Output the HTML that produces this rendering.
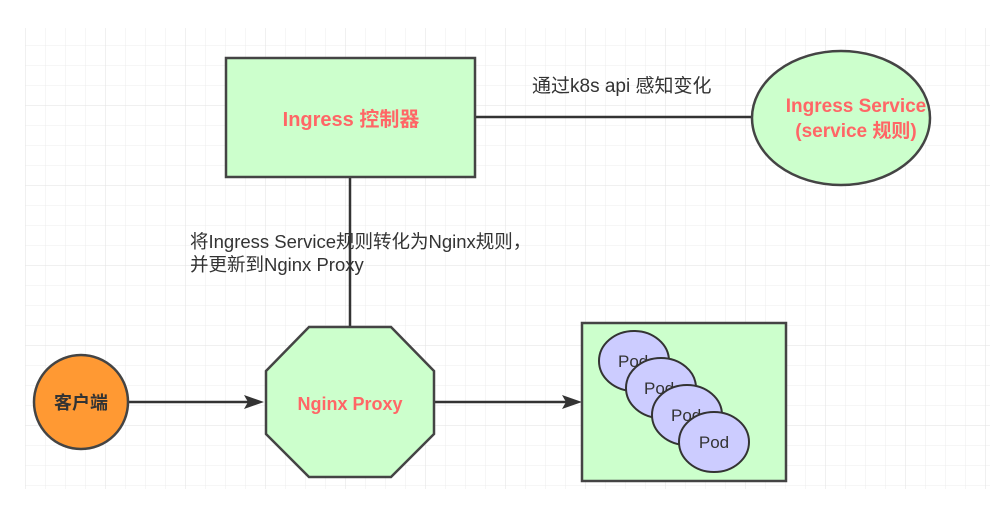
<!DOCTYPE html>
<html><head><meta charset="utf-8"><style>
body{margin:0;background:#fff;}
</style></head><body>
<svg width="1006" height="510" xmlns="http://www.w3.org/2000/svg" style="display:block">
<defs>
<pattern id="g" x="25" y="25" width="20" height="20" patternUnits="userSpaceOnUse">
<path d="M0 0H20M0 0V20" stroke="#ececec" stroke-width="1" fill="none"/>
</pattern>
<pattern id="G" x="25" y="25" width="80" height="80" patternUnits="userSpaceOnUse">
<path d="M0 0H80M0 0V80" stroke="#e2e2e2" stroke-width="1" fill="none"/>
</pattern>
</defs>
<rect x="25" y="28" width="965" height="461" fill="url(#g)"/>
<rect x="25" y="28" width="965" height="461" fill="url(#G)"/>
<g stroke="#333" stroke-width="2.5" fill="none">
<line x1="475" y1="117" x2="752" y2="117"/>
<line x1="350" y1="177" x2="350" y2="327"/>
<line x1="128" y1="402" x2="250" y2="402"/>
<line x1="434" y1="402" x2="566" y2="402"/>
</g>
<polygon points="264,402 244,395 248,402 244,409" fill="#333"/>
<polygon points="582,402 562,395 566,402 562,409" fill="#333"/>
<rect x="226" y="58" width="249" height="119" fill="#ccffcc" stroke="#444" stroke-width="2.5"/>
<ellipse cx="841" cy="118" rx="89" ry="67" fill="#ccffcc" stroke="#444" stroke-width="2.5"/>
<polygon points="309,327 391,327 434,371 434,434 391,477 309,477 266,434 266,371" fill="#ccffcc" stroke="#444" stroke-width="2.5"/>
<circle cx="81" cy="402" r="47" fill="#ff9933" stroke="#444" stroke-width="2.5"/>
<rect x="582" y="323" width="204" height="158" fill="#ccffcc" stroke="#444" stroke-width="2.5"/>
<g fill="#ccccff" stroke="#333" stroke-width="2" font-family="Liberation Sans, sans-serif" font-size="17">
<ellipse cx="634" cy="361" rx="35" ry="30"/><text x="618" y="367" fill="#333" stroke="none">Pod</text>
<ellipse cx="661" cy="388" rx="35" ry="30"/><text x="644" y="394" fill="#333" stroke="none">Pod</text>
<ellipse cx="687" cy="415" rx="35" ry="30"/><text x="671" y="421" fill="#333" stroke="none">Pod</text>
<ellipse cx="714" cy="442" rx="35" ry="30"/><text x="714" y="448" text-anchor="middle" fill="#333" stroke="none">Pod</text>
</g>
<g font-family="Liberation Sans, Noto Sans CJK SC, sans-serif">
<text x="351" y="126" text-anchor="middle" fill="#ff6666" font-weight="bold" font-size="20">Ingress 控制器</text>
<text x="856" y="112" text-anchor="middle" fill="#ff6666" font-weight="bold" font-size="19">Ingress Service</text>
<text x="856" y="137" text-anchor="middle" fill="#ff6666" font-weight="bold" font-size="19">(service 规则)</text>
<text x="350" y="410" text-anchor="middle" fill="#ff6666" font-weight="bold" font-size="18">Nginx Proxy</text>
<text x="81" y="409" text-anchor="middle" fill="#333" font-weight="bold" font-size="18">客户端</text>
<text x="532" y="92" fill="#333" font-size="19">通过k8s api 感知变化</text>
<text x="190" y="248" fill="#333" font-size="18.5">将Ingress Service规则转化为Nginx规则，</text>
<text x="190" y="271" fill="#333" font-size="18.5">并更新到Nginx Proxy</text>
</g>
</svg>
</body></html>
